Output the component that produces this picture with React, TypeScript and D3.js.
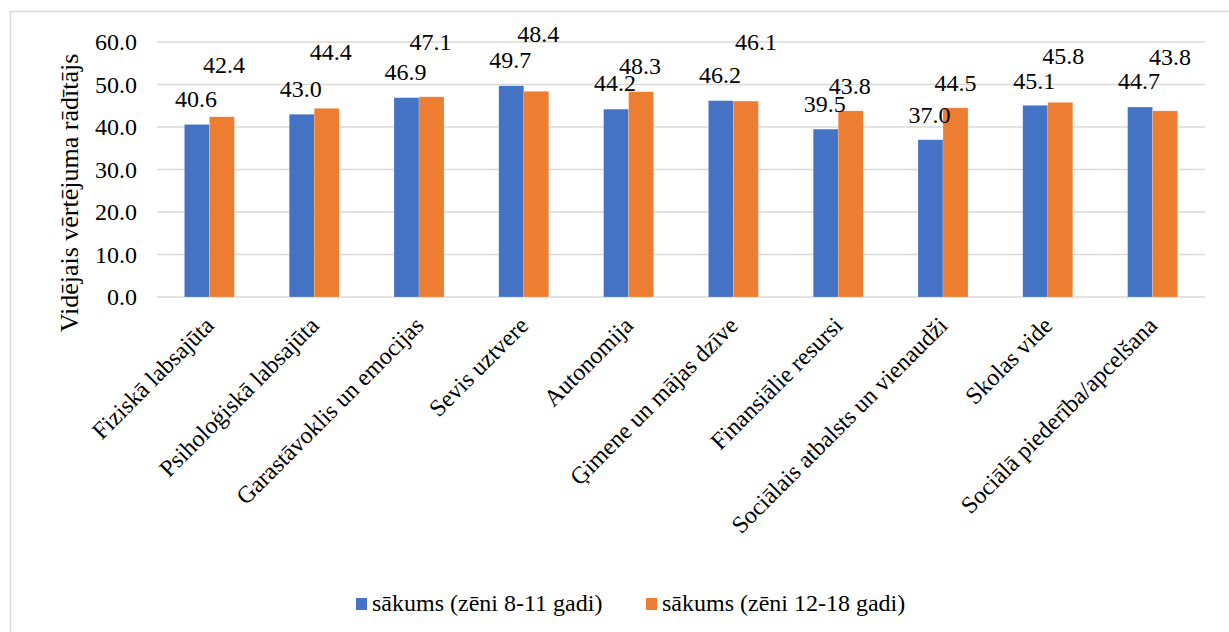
import React from "react";
import * as d3 from "d3";

const categories: string[] = [
  "Fiziskā labsajūta",
  "Psiholoģiskā labsajūta",
  "Garastāvoklis un emocijas",
  "Sevis uztvere",
  "Autonomija",
  "Ģimene un mājas dzīve",
  "Finansiālie resursi",
  "Sociālais atbalsts un vienaudži",
  "Skolas vide",
  "Sociālā piederība/apcelšana",
];
const seriesNames: string[] = ["sākums (zēni 8-11 gadi)", "sākums (zēni 12-18 gadi)"];
const boys8to11: number[] = [40.6, 43.0, 46.9, 49.7, 44.2, 46.2, 39.5, 37.0, 45.1, 44.7];
const boys12to18: number[] = [42.4, 44.4, 47.1, 48.4, 48.3, 46.1, 43.8, 44.5, 45.8, 43.8];
const yTicks: number[] = [0, 10, 20, 30, 40, 50, 60];

// label placement tweaks (layout, px)
const blueLabelDy: number[] = [-17.5, -17, -18, -18, -18, -18, -17, -17, -16, -18];
const orangeLabelDy: number[] = [-44, -48, -47, -49, -18, -51, -17, -17, -38, -46];
const orangeLabelDx: number[] = [2, 4, -1, 2, -1, 10, -1, 0, 3, 5];

const COLORS = ["#4472C4", "#ED7D31"];
const FONT = "Liberation Serif, Times New Roman, DejaVu Serif, serif";
const txt = { fontFamily: FONT };

export default function App() {
  const W = 1229;
  const H = 632;
  const plot = { left: 157, right: 1205, top: 42, bottom: 297 };

  const x = d3.scaleBand<string>().domain(categories).range([plot.left, plot.right]).padding(0);
  const y = d3.scaleLinear().domain([0, 60]).range([plot.bottom, plot.top]);
  const groupW = x.bandwidth() * 0.477;
  const inner = d3.scaleBand<number>().domain([0, 1]).range([-groupW / 2, groupW / 2]).padding(0);
  const series = [boys8to11, boys12to18];

  return (
    <svg width={W} height={H} style={{ position: "absolute", left: 0, top: 0, background: "#fff" }}>
      <rect x={0} y={0} width={W} height={H} fill="#fff" />
      <rect x={10.5} y={11.5} width={1400} height={800} fill="none" stroke="#d9d9d9" strokeWidth={1.5} />
      {yTicks.map((t) => (
        <g key={t}>
          <line x1={plot.left} x2={plot.right} y1={y(t)} y2={y(t)} stroke="#d9d9d9" strokeWidth={1.5} />
          <text style={txt} x={137} y={y(t)} dy="0.35em" textAnchor="end" fontSize={24} fill="#000">
            {d3.format(".1f")(t)}
          </text>
        </g>
      ))}
      {series.map((vals, s) =>
        vals.map((v, i) => {
          const cx = (x(categories[i]) as number) + x.bandwidth() / 2;
          const bx = cx + (inner(s) as number);
          return (
            <rect key={`${s}-${i}`} x={bx} y={y(v)} width={inner.bandwidth()} height={y(0) - y(v)} fill={COLORS[s]} stroke="#fff" strokeOpacity={0.4} strokeWidth={0.5} />
          );
        })
      )}
      {series.map((vals, s) =>
        vals.map((v, i) => {
          const cx = (x(categories[i]) as number) + x.bandwidth() / 2;
          const bc = cx + (inner(s) as number) + inner.bandwidth() / 2;
          const dx = s === 0 ? -1 : orangeLabelDx[i];
          const dy = s === 0 ? blueLabelDy[i] : orangeLabelDy[i];
          return (
            <text style={txt} key={`l${s}-${i}`} x={bc + dx} y={y(v) + dy} textAnchor="middle" fontSize={24} fill="#000">
              {d3.format(".1f")(v)}
            </text>
          );
        })
      )}
      {categories.map((c) => {
        const cx = (x(c) as number) + x.bandwidth() / 2;
        return (
          <text style={txt} key={c} transform={`translate(${cx + 6},${327}) rotate(-45)`} textAnchor="end" fontSize={24} fill="#000">
            {c}
          </text>
        );
      })}
      <text style={txt} transform={`translate(78,${193}) rotate(-90)`} textAnchor="middle" fontSize={26} fill="#000">
        Vidējais vērtējuma rādītājs
      </text>
      <g>
        <rect x={356} y={598} width={11} height={12} fill={COLORS[0]} />
        <text style={txt} x={372} y={611} fontSize={24} fill="#000">{seriesNames[0]}</text>
        <rect x={646} y={598} width={11} height={12} fill={COLORS[1]} />
        <text style={txt} x={662} y={611} fontSize={24} fill="#000">{seriesNames[1]}</text>
      </g>
    </svg>
  );
}
